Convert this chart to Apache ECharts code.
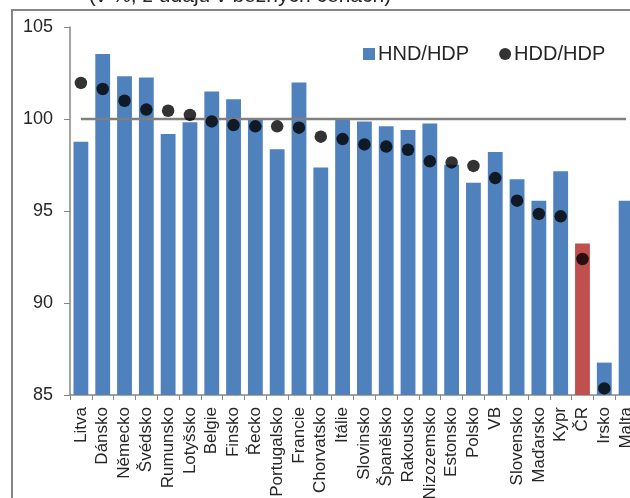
<!DOCTYPE html>
<html><head><meta charset="utf-8">
<script src="https://cdn.jsdelivr.net/npm/echarts@6/dist/echarts.min.js"></script>
<style>html,body{margin:0;padding:0;background:#fff}#c{width:630px;height:498px}</style>
</head><body><div id="c"></div>
<script>
const categories = ["Litva","Dánsko","Německo","Švédsko","Rumunsko","Lotyšsko","Belgie","Finsko","Řecko","Portugalsko","Francie","Chorvatsko","Itálie","Slovinsko","Španělsko","Rakousko","Nizozemsko","Estonsko","Polsko","VB","Slovensko","Maďarsko","Kypr","ČR","Irsko","Malta"];
const hndHdp = [98.77,103.53,102.32,102.26,99.18,99.82,101.5,101.07,99.98,98.35,101.99,97.37,100.0,99.87,99.6,99.4,99.75,97.52,96.54,98.2,96.72,95.56,97.16,93.24,86.76,95.56];
const hddHdp = [101.96,101.63,100.99,100.51,100.45,100.22,99.87,99.67,99.6,99.6,99.53,99.04,98.91,98.62,98.5,98.33,97.7,97.64,97.45,96.79,95.56,94.84,94.71,92.39,85.36,null];
const refLine = categories.map(() => 100);
const yTicks = [85, 90, 95, 100, 105];
const highlight = "ČR";

const blue = '#4F81BD', red = '#C0504D', txt = '#262626', axisCol = '#868686';
const chart = echarts.init(document.getElementById('c'));
chart.setOption({
  animation: false,
  textStyle: { fontFamily: 'Liberation Sans, Arial, sans-serif' },
  graphic: [
    { type: 'rect', shape: { x: 12, y: 10, width: 700, height: 600 }, style: { fill: 'none', stroke: axisCol, lineWidth: 2 }, z: 0 },
    { type: 'text', x: 240, y: 7, style: { text: '(v %, z údajů v běžných cenách)', fill: txt, font: '21px "Liberation Sans", Arial, sans-serif', textAlign: 'center', textVerticalAlign: 'bottom' } }
  ],
  legend: {
    left: 358, top: 39, itemGap: 30, itemWidth: 12, itemHeight: 12,
    textStyle: { fontSize: 20, color: txt, padding: [0, 0, 0, -2] },
    data: [{ name: 'HND/HDP', icon: 'rect' }, { name: 'HDD/HDP', icon: 'circle' }]
  },
  grid: { left: 70, top: 27, width: 567, height: 368, containLabel: false, outerBoundsMode: 'none' },
  xAxis: {
    type: 'category', data: categories,
    axisLine: { lineStyle: { color: axisCol, width: 1.5 } },
    axisTick: { show: true, length: 5, lineStyle: { color: axisCol } },
    axisLabel: { rotate: 90, fontSize: 17, color: txt, margin: 12, interval: 0 }
  },
  yAxis: {
    type: 'value', min: yTicks[0], max: yTicks[yTicks.length - 1], interval: 5,
    axisLine: { show: true, lineStyle: { color: axisCol, width: 1.5 } },
    axisTick: { show: true, length: 6, inside: false, lineStyle: { color: axisCol } },
    splitLine: { show: false },
    axisLabel: { fontSize: 18, color: txt, margin: 17 }
  },
  series: [
    { name: 'HND/HDP', type: 'bar', barCategoryGap: '32%',
      itemStyle: { color: blue },
      data: hndHdp.map((v, i) => categories[i] === highlight ? { value: v, itemStyle: { color: red } } : v), z: 2 },
    { name: 'ref', type: 'line', data: refLine, symbol: 'none', lineStyle: { color: '#808080', width: 2.5 }, z: 3, silent: true },
    { name: 'HDD/HDP', type: 'scatter', data: hddHdp, symbol: 'circle', symbolSize: 12.5, itemStyle: { color: '#000' }, z: 4 }
  ]
});
</script></body></html>
